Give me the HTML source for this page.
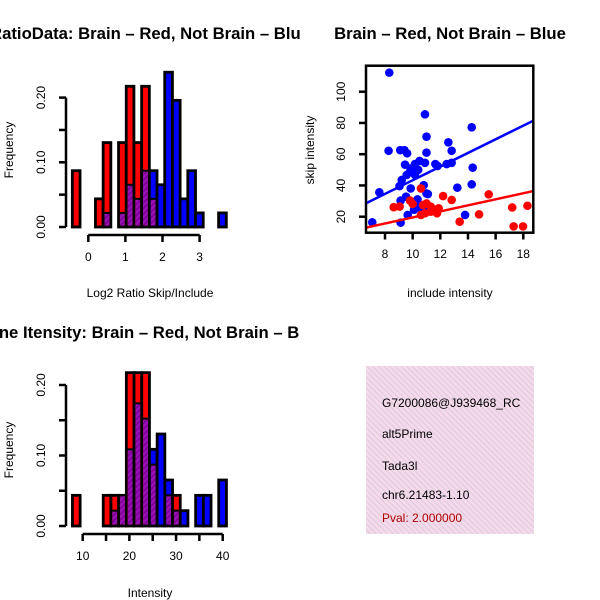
<!DOCTYPE html>
<html><head><meta charset="utf-8"><style>
html,body{margin:0;padding:0;background:#fff;}
svg{display:block;font-family:"Liberation Sans",Arial,sans-serif;}
</style></head><body>
<svg id="chart" width="600" height="600" viewBox="0 0 600 600" xmlns="http://www.w3.org/2000/svg">
<defs>
<pattern id="hatch" patternUnits="userSpaceOnUse" width="4" height="4" patternTransform="rotate(45)">
<rect width="4" height="4" fill="#9a10b8"/><rect width="1.5" height="4" fill="#7a0090"/></pattern>
<pattern id="pinkhatch" patternUnits="userSpaceOnUse" width="4" height="4" patternTransform="rotate(-45)">
<rect width="4" height="4" fill="#f7d9ef"/><rect width="1" height="4" fill="#d9cfcf"/></pattern>
<clipPath id="q1"><rect x="0" y="0" width="300" height="300"/></clipPath>
<clipPath id="q3"><rect x="0" y="300" width="300" height="300"/></clipPath>
<clipPath id="q4"><rect x="366" y="366" width="168" height="168"/></clipPath>
</defs>
<g id="p1" clip-path="url(#q1)">
<text x="150" y="39" text-anchor="middle" font-size="16.7" font-weight="bold">RatioData: Brain – Red, Not Brain – Blue</text>
<text x="150" y="297" text-anchor="middle" font-size="12">Log2 Ratio Skip/Include</text>
<text transform="translate(13,150) rotate(-90)" text-anchor="middle" font-size="12">Frequency</text>
</g>
<g id="p3" clip-path="url(#q3)">
<text x="150" y="338" text-anchor="middle" font-size="16.7" font-weight="bold">Gene Itensity: Brain – Red, Not Brain – Blue</text>
<text x="150" y="597" text-anchor="middle" font-size="12">Intensity</text>
<text transform="translate(13,450) rotate(-90)" text-anchor="middle" font-size="12">Frequency</text>
</g>
<g id="p2">
<text x="450" y="39" text-anchor="middle" font-size="16.7" font-weight="bold">Brain – Red, Not Brain – Blue</text>
<text x="450" y="297" text-anchor="middle" font-size="12">include intensity</text>
<text transform="translate(314,150) rotate(-90)" text-anchor="middle" font-size="12">skip intensity</text>
</g>
<g id="p4">
<rect x="366" y="366" width="168" height="168" fill="url(#pinkhatch)"/>
<g clip-path="url(#q4)" font-size="12">
<text x="382" y="407">G7200086@J939468_RC</text>
<text x="382" y="438">alt5Prime</text>
<text x="382" y="470">Tada3l</text>
<text x="382" y="499">chr6.21483-1.10</text>
<text x="382" y="522" fill="#b00000">Pval: 2.000000</text>
</g>
</g>
</svg>
<script>
// Ratio histogram data (counts per bin)
const ratioBinStart = -0.43;
const ratioBinWidth = 0.2075;
const ratioRedCounts = [2,0,0,1,3,0,3,5,3,5,1,0,0,0,0,0,0,0,0,0];
const ratioBlueCounts = [0,0,0,0,1,0,1,3,2,4,4,3,11,9,2,4,1,0,0,1];
const ratioXTicks = [0,1,2,3];
const ratioYTicks = [0.00,0.05,0.10,0.15,0.20];
const ratioYLabels = ["0.00","0.10","0.20"];
// Intensity histogram data
const intBinStart = 7.8;
const intBinWidth = 1.65;
const intRedCounts = [1,0,0,0,1,1,1,5,5,5,2,0,1,1,0,0,0,0,0,0];
const intBlueCounts = [0,0,0,0,0,1,2,5,8,7,5,6,3,1,1,0,2,2,0,3];
const intXTicks = [10,15,20,25,30,35,40];
const intXLabels = ["10","20","30","40"];
const intYTicks = [0.00,0.05,0.10,0.15,0.20];
const intYLabels = ["0.00","0.10","0.20"];
const redN = 23, blueN = 46;
const perCountRed = 0.0435, perCountBlue = 0.02175;
// Scatter data
const blueX = [8.31,7.08,7.59,8.26,9.1,9.4,9.6,10.89,11.0,11.0,12.58,12.82,14.27,14.34,14.27,13.23,13.79,12.46,12.82,11.64,10.89,10.17,9.45,9.81,10.17,9.57,9.21,9.05,9.86,10.8,11.0,11.1,9.52,9.13,10.35,10.6,10.9,10.35,11.0,9.64,9.13,10.1,10.5,11.8,9.9,10.4];
const blueY = [112.2,16.4,35.6,62.2,62.6,62.6,60.6,85.5,71.2,61,67.6,62.2,77.2,51.4,40.7,38.6,21.1,53.7,54.5,53.7,54.5,53.7,53.3,48.8,46.7,46.7,43.5,39.6,38.1,40.2,34.9,34.5,32.8,30.3,31.1,25.4,24.7,26.5,23.9,21.1,16.2,24.5,55.7,52.5,51,50];
const redX = [8.63,9.06,9.81,10.0,10.6,10.6,10.9,11.3,11.64,11.88,11.76,12.2,12.82,13.4,14.8,15.5,17.2,17.3,17.98,18.3,11.3,11.0,10.75];
const redY = [26.1,26.5,30.3,28.2,38.1,21.1,22.2,26.5,24.5,25.4,22.2,33.2,30.7,16.8,21.5,34.3,25.9,13.8,13.8,27,23.2,28.5,27.5];
const blueFit = [-0.37, 4.37];
const redFit = [0.17, 1.935];
const scXTicks = [8,10,12,14,16,18];
const scYTicks = [20,40,60,80,100];

const NS = "http://www.w3.org/2000/svg";
function mk(tag, attrs, parent) {
  const e = document.createElementNS(NS, tag);
  for (const k in attrs) e.setAttribute(k, attrs[k]);
  parent.appendChild(e);
  return e;
}
function hist(g, prefix, binStart, binWidth, redC, blueC, xs, ys, xTicks, xLabels, yTicks, yLabels, y0, yTop, xAxisY) {
  for (let i = 0; i < redC.length; i++) {
    const r = redC[i] * perCountRed, b = blueC[i] * perCountBlue;
    if (r === 0 && b === 0) continue;
    const xa = xs(binStart + i * binWidth), xb = xs(binStart + (i + 1) * binWidth);
    const hi = Math.max(r, b), lo = Math.min(r, b);
    const col = r >= b ? "#ff0000" : "#0000ff";
    const bar = mk("rect", {x: xa, y: ys(hi), width: xb - xa, height: ys(0) - ys(hi), fill: col, stroke: "#000", "stroke-width": 2.8}, g);
    
    
    if (lo > 0) {
      const ov = mk("rect", {x: xa + 1.4, y: ys(lo), width: xb - xa - 2.8, height: ys(0) - ys(lo) - 1.4, fill: "url(#hatch)", stroke: "#000", "stroke-width": 0}, g);
      
      
      mk("line", {x1: xa, x2: xb, y1: ys(lo), y2: ys(lo), stroke: "#000", "stroke-width": 2}, g);
    }
  }
  const yax = mk("line", {x1: 66, x2: 66, y1: ys(yTicks[0]), y2: ys(yTicks[yTicks.length - 1]), stroke: "#000", "stroke-width": 2.5}, g);
  
  
  yTicks.forEach(t => mk("line", {x1: 59, x2: 66, y1: ys(t), y2: ys(t), stroke: "#000", "stroke-width": 2.5}, g));
  yLabels.forEach(l => {
    const t = mk("text", {transform: "translate(45," + ys(parseFloat(l)) + ") rotate(-90)", "text-anchor": "middle", "font-size": 12}, g);
    t.textContent = l;
    
    
  });
  const xax = mk("line", {x1: xs(xTicks[0]), x2: xs(xTicks[xTicks.length - 1]), y1: xAxisY, y2: xAxisY, stroke: "#000", "stroke-width": 2.5}, g);
  
  
  xTicks.forEach(t => mk("line", {x1: xs(t), x2: xs(t), y1: xAxisY, y2: xAxisY + 7, stroke: "#000", "stroke-width": 2.5}, g));
  xLabels.forEach(l => {
    const t = mk("text", {x: xs(parseFloat(l)), y: xAxisY + 26, "text-anchor": "middle", "font-size": 12}, g);
    t.textContent = l;
    
    
  });
}
const p1 = document.getElementById("p1");
const rxs = v => 88.3 + v * 37.1;
const rys = d => 227 - d * 647;
hist(p1, "ratio", ratioBinStart, ratioBinWidth, ratioRedCounts, ratioBlueCounts, rxs, rys, ratioXTicks, ratioXTicks.map(String), ratioYTicks, ratioYLabels, 227, 97, 235);

const p3 = document.getElementById("p3");
const ixs = v => 82.7 + (v - 10) * 4.667;
const iys = d => 526 - d * 705;
hist(p3, "intensity", intBinStart, intBinWidth, intRedCounts, intBlueCounts, ixs, iys, intXTicks, intXLabels, intYTicks, intYLabels, 526, 385, 534);

const p2 = document.getElementById("p2");
const sx = v => 385 + (v - 8) * 13.83;
const sy = v => 216.7 - (v - 20) * 1.5625;
const xMin = 6.63, xMax = 18.72;
const cp = mk("clipPath", {id: "scclip"}, p2);
mk("rect", {x: 366, y: 65.7, width: 167.3, height: 167}, cp);
const inner = mk("g", {"clip-path": "url(#scclip)"}, p2);
blueX.forEach((v, i) => {
  const c = mk("circle", {cx: sx(v), cy: sy(blueY[i]), r: 4.3, fill: "#0000ff"}, inner);
  
  
});
redX.forEach((v, i) => {
  const c = mk("circle", {cx: sx(v), cy: sy(redY[i]), r: 4.3, fill: "#ff0000"}, inner);
  
  
});
[[blueFit, "#0000ff", "blue-fit-line"], [redFit, "#ff0000", "red-fit-line"]].forEach(([f, col, nm]) => {
  const l = mk("line", {x1: sx(xMin), y1: sy(f[0] + f[1] * xMin), x2: sx(xMax), y2: sy(f[0] + f[1] * xMax), stroke: col, "stroke-width": 2.5}, inner);
  
  
});
const frame = mk("rect", {x: 366, y: 65.7, width: 167.3, height: 167, fill: "none", stroke: "#000", "stroke-width": 2.5}, p2);


scXTicks.forEach(t => {
  mk("line", {x1: sx(t), x2: sx(t), y1: 232.7, y2: 239.5, stroke: "#000", "stroke-width": 2.5}, p2);
  const tx = mk("text", {x: sx(t), y: 258, "text-anchor": "middle", "font-size": 12}, p2);
  tx.textContent = t;
  
  
});
scYTicks.forEach(t => {
  mk("line", {x1: 359, x2: 366, y1: sy(t), y2: sy(t), stroke: "#000", "stroke-width": 2.5}, p2);
  const tx = mk("text", {transform: "translate(345," + sy(t) + ") rotate(-90)", "text-anchor": "middle", "font-size": 12}, p2);
  tx.textContent = t;
  
  
});
</script>
</body></html>
